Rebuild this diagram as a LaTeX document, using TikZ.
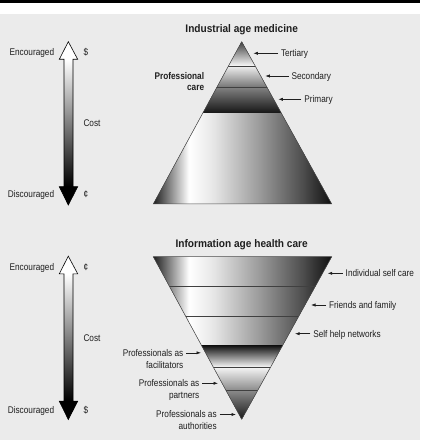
\documentclass[tikz,border=0pt]{standalone}
\usepackage{fontspec}
\setmainfont{Liberation Sans}[FakeStretch=0.85]
\newfontfamily\titlefont{Liberation Sans}[FakeStretch=0.92]
\usetikzlibrary{arrows.meta}
\definecolor{bggray}{gray}{0.92}
\definecolor{ink}{gray}{0.12}
\pgfdeclarehorizontalshading{hcyl}{100bp}{gray(0bp)=(0.12); gray(25bp)=(0.12); gray(35bp)=(1); gray(42bp)=(0.9); gray(55bp)=(0.6); gray(67bp)=(0.3); gray(75bp)=(0.06); gray(100bp)=(0.06)}
\tikzset{
  txt/.style={font=\fontsize{9.7bp}{11bp}\selectfont, inner sep=0pt, text height=8.8bp, text depth=2bp, text=ink},
  lbl/.style={txt, outer xsep=3bp},
  boldtxt/.style={txt, font=\fontsize{9.7bp}{11bp}\selectfont\bfseries},
  titletxt/.style={font=\titlefont\fontsize{11bp}{13bp}\selectfont\bfseries, inner sep=0pt, text=ink},
  lblarrow/.style={draw=ink, line width=0.6bp, -{Latex[length=4.5bp,width=3.2bp]}},
  layerline/.style={draw=black!75, line width=0.6bp},
  triedge/.style={draw=black!70, line width=0.5bp},
  arrowoutline/.style={draw=black, line width=0.6bp, line join=miter},
}
\begin{document}
\begin{tikzpicture}[x=1bp,y=-1bp]
\useasboundingbox (0,0) rectangle (420,440);
% background
\fill[bggray] (0,14) rectangle (420,440);
\fill[white] (0,3) rectangle (420,14);
\fill[black] (0,0) rectangle (420,3);

% cost arrows
\foreach \dy in {0,214.5}{
\begin{scope}[shift={(0,\dy)}]
  \fill[white] (68.3,41.7) -- (77.7,59.3) -- (59.3,59.3) -- cycle;
  \fill[top color=white, bottom color=black] (64,59.3) rectangle (73,186.7);
  \fill[black] (59.3,186.7) -- (77.7,186.7) -- (68.3,205) -- cycle;
  \draw[arrowoutline] (68.3,41.7) -- (77.7,59.3) -- (73,59.3) -- (73,186.7) -- (77.7,186.7) -- (68.3,205) -- (59.3,186.7) -- (64,186.7) -- (64,59.3) -- (59.3,59.3) -- cycle;
\end{scope}
}

% ---------- Industrial age medicine ----------
\node[titletxt, anchor=base] (t1) at (241.7,33) {Industrial age medicine};
\coordinate (A1) at (241.7,41.7);
\coordinate (BL1) at (153.3,204);
\coordinate (BR1) at (331.7,204);
\begin{scope}
  \clip (A1) -- (BL1) -- (BR1) -- cycle;
  \fill[top color=black!75, middle color=white, bottom color=white] (153.3,41.7) rectangle (331.7,66.7);
  \fill[top color=black!8, bottom color=black!55] (153.3,66.7) rectangle (331.7,87.7);
  \fill[top color=black!50, bottom color=black!92] (153.3,87.7) rectangle (331.7,113.3);
  \fill[shading=hcyl] (153.3,113.3) rectangle (331.7,204);
  \draw[layerline] (153.3,66.7) -- (331.7,66.7);
  \draw[layerline] (153.3,87.7) -- (331.7,87.7);
\end{scope}
\draw[triedge] (A1) -- (BL1) -- (BR1) -- cycle;

\node[boldtxt, anchor=east] (pc1) at (204.3,75.8) {Professional};
\node[boldtxt, anchor=east] (pc2) at (204.3,87) {care};

\coordinate (tertTip) at (253.3,53.3);
\coordinate (secTip) at (265.3,76);
\coordinate (priTip) at (278.3,99.3);
\node[lbl, anchor=west] (tert) at (278,53.3) {Tertiary};
\node[lbl, anchor=west] (sec) at (288.5,76) {Secondary};
\node[lbl, anchor=west] (pri) at (301.3,99.3) {Primary};
\draw[lblarrow] (tert.west) -- (tertTip);
\draw[lblarrow] (sec.west) -- (secTip);
\draw[lblarrow] (pri.west) -- (priTip);

\node[txt, anchor=east] (enc1) at (54.3,52.3) {Encouraged};
\node[txt, anchor=west] (dol1) at (83.3,52.3) {\$};
\node[txt, anchor=west] (cost1) at (83.3,123.3) {Cost};
\node[txt, anchor=east] (dis1) at (54.3,194.3) {Discouraged};
\node[txt, anchor=west] (cent1) at (83.3,194.3) {¢};

% ---------- Information age health care ----------
\node[titletxt, anchor=base] (t2) at (241.7,247.2) {Information age health care};
\coordinate (TL2) at (153.3,256.7);
\coordinate (TR2) at (331.7,256.7);
\coordinate (A2) at (241.7,419.3);
\begin{scope}
  \clip (TL2) -- (TR2) -- (A2) -- cycle;
  \fill[shading=hcyl] (153.3,256.7) rectangle (331.7,286.7);
  \fill[shading=hcyl] (153.3,286.7) rectangle (331.7,316.7);
  \fill[shading=hcyl] (153.3,316.7) rectangle (331.7,345);
  \fill[top color=black!95, middle color=black!12, bottom color=white] (153.3,345) rectangle (331.7,367.7);
  \fill[top color=black!5, bottom color=black!45] (153.3,367.7) rectangle (331.7,390);
  \fill[top color=black!45, bottom color=black!90] (153.3,390) rectangle (331.7,419.3);
  \draw[layerline] (153.3,286.7) -- (331.7,286.7);
  \draw[layerline] (153.3,316.7) -- (331.7,316.7);
  \draw[layerline] (153.3,367.7) -- (331.7,367.7);
  \draw[layerline] (153.3,390) -- (331.7,390);
\end{scope}
\draw[triedge] (TL2) -- (TR2) -- (A2) -- cycle;

\coordinate (iscTip) at (327.7,273.3);
\coordinate (ffTip) at (311,305);
\coordinate (shnTip) at (295,333.7);
\node[lbl, anchor=west] (isc) at (342.7,273.3) {Individual self care};
\node[lbl, anchor=west] (ff) at (326,305) {Friends and family};
\node[lbl, anchor=west] (shn) at (310.3,333.7) {Self help networks};
\draw[lblarrow] (isc.west) -- (iscTip);
\draw[lblarrow] (ff.west) -- (ffTip);
\draw[lblarrow] (shn.west) -- (shnTip);

\coordinate (facTip) at (201,352.8);
\coordinate (parTip) at (218,383.3);
\coordinate (autTip) at (236,414.5);
\node[lbl, anchor=east] (fac) at (186.3,352.8) {Professionals as};
\node[lbl, anchor=east] (fac2) at (186.3,365.5) {facilitators};
\node[lbl, anchor=east] (par) at (202.3,383.3) {Professionals as};
\node[lbl, anchor=east] (par2) at (202.3,395) {partners};
\node[lbl, anchor=east] (aut) at (219.7,414.5) {Professionals as};
\node[lbl, anchor=east] (aut2) at (219.7,426.5) {authorities};
\draw[lblarrow] (fac.east) -- (facTip);
\draw[lblarrow] (par.east) -- (parTip);
\draw[lblarrow] (aut.east) -- (autTip);

\node[txt, anchor=east] (enc2) at (54.3,267.3) {Encouraged};
\node[txt, anchor=west] (cent2) at (83.3,267.3) {¢};
\node[txt, anchor=west] (cost2) at (83.3,338.3) {Cost};
\node[txt, anchor=east] (dis2) at (54.3,410) {Discouraged};
\node[txt, anchor=west] (dol2) at (83.3,410) {\$};
\end{tikzpicture}
\end{document}
